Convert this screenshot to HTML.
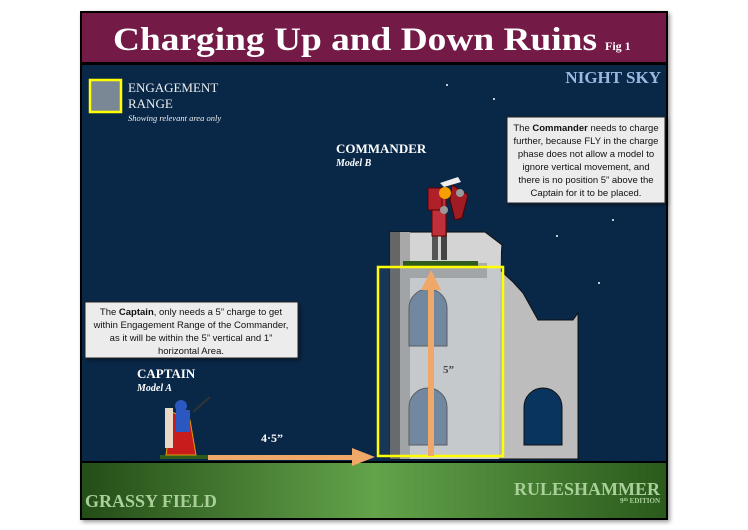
<!DOCTYPE html>
<html><head><style>
body{margin:0;background:#fff;width:748px;height:530px;overflow:hidden}
svg{display:block}
.t{font-family:"Liberation Serif",serif}
.s{font-family:"Liberation Sans",sans-serif;font-size:9.5px;fill:#111}
</style></head><body>
<svg width="748" height="530" viewBox="0 0 748 530">
<defs>
<linearGradient id="g" x1="0" x2="1" y1="0" y2="0"><stop offset="0" stop-color="#244d17"/><stop offset="0.5" stop-color="#63a34a"/><stop offset="1" stop-color="#2a5a1c"/></linearGradient>
<filter id="sh"><feDropShadow dx="2" dy="2" stdDeviation="2" flood-opacity="0.4"/></filter>
</defs>
<rect x="80" y="11" width="588" height="509" fill="#000" filter="url(#sh)"/>
<rect x="82" y="13" width="584" height="49" fill="#731a47"/>
<rect x="82" y="65" width="584" height="396" fill="#092848"/>
<rect x="82" y="463" width="584" height="55" fill="url(#g)"/>
<text x="113" y="50" class="t" font-size="33" font-weight="bold" fill="#fff" textLength="484" lengthAdjust="spacingAndGlyphs">Charging Up and Down Ruins</text>
<text x="605" y="50" class="t" font-size="12" font-weight="bold" fill="#fff">Fig 1</text>
<text x="661" y="83" class="t" font-size="17" font-weight="bold" fill="#9bb8e0" text-anchor="end">NIGHT SKY</text>
<rect x="90" y="80" width="31" height="32" fill="#7a8896" stroke="#ffff00" stroke-width="2.5"/>
<text x="128" y="92" class="t" font-size="13" fill="#eee">ENGAGEMENT</text>
<text x="128" y="108" class="t" font-size="13" fill="#eee">RANGE</text>
<text x="128" y="121" class="t" font-size="8.5" font-style="italic" fill="#eee">Showing relevant area only</text>
<g fill="#fff"><circle cx="447" cy="85" r="1"/><circle cx="494" cy="99" r="1"/><circle cx="613" cy="220" r="1"/><circle cx="599" cy="283" r="1"/><circle cx="557" cy="236" r="1"/></g>
<text x="336" y="153" class="t" font-size="13" font-weight="bold" fill="#fff">COMMANDER</text>
<text x="336" y="166" class="t" font-size="10" font-weight="bold" font-style="italic" fill="#fff">Model B</text>
<text x="137" y="378" class="t" font-size="13" font-weight="bold" fill="#fff">CAPTAIN</text>
<text x="137" y="391" class="t" font-size="10" font-weight="bold" font-style="italic" fill="#fff">Model A</text>
<g filter="url(#sh)">
<rect x="507" y="117" width="158" height="86" fill="#ececec" stroke="#222"/>
<rect x="85" y="302" width="213" height="56" fill="#ececec" stroke="#222"/>
</g>
<text class="s" text-anchor="middle"><tspan x="586" y="131">The <tspan font-weight="bold">Commander</tspan> needs to charge</tspan><tspan x="586" y="144">further, because FLY in the charge</tspan><tspan x="586" y="157">phase does not allow a model to</tspan><tspan x="586" y="170">ignore vertical movement, and</tspan><tspan x="586" y="183">there is no position 5” above the</tspan><tspan x="586" y="196">Captain for it to be placed.</tspan></text>
<text class="s" text-anchor="middle"><tspan x="191" y="315">The <tspan font-weight="bold">Captain</tspan>, only needs a 5” charge to get</tspan><tspan x="191" y="328">within Engagement Range of the Commander,</tspan><tspan x="191" y="341">as it will be within the 5” vertical and 1”</tspan><tspan x="191" y="354">horizontal Area.</tspan></text>
<polygon points="390,232 485,232 502,245 500,270 513,282 523,293 538,320 573,320 578,313 578,459 390,459" fill="#bdbdbd" stroke="#111"/>
<polygon points="391,233 485,233 501,245 499,459 391,459" fill="#d4d4d4"/>
<rect x="390" y="232" width="10" height="227" fill="#666"/>
<rect x="400" y="232" width="10" height="227" fill="#a8a8a8"/>
<rect x="400" y="263" width="87" height="15" fill="#aaa"/>
<path d="M409,346 V308 a19,19 0 0 1 38,0 V346Z" fill="#7088a0" stroke="#555"/>
<path d="M409,445 V407 a19,19 0 0 1 38,0 V445Z" fill="#7088a0" stroke="#555"/>
<path d="M524,445 V407 a19,19 0 0 1 38,0 V445Z" fill="#08345e" stroke="#111"/>
<rect x="403" y="261" width="75" height="5" fill="#2e5a1c"/>
<rect x="378" y="267" width="125" height="189" fill="rgba(120,140,160,0.15)" stroke="#ffff00" stroke-width="2.5"/>
<g>
<rect x="432" y="235" width="6" height="25" fill="#555"/><rect x="441" y="232" width="6" height="28" fill="#444"/>
<rect x="432" y="192" width="14" height="44" fill="#c0303a" stroke="#600" />
<rect x="428" y="188" width="14" height="22" fill="#b02028" stroke="#500"/>
<polygon points="452,185 468,195 462,218 455,220 450,200" fill="#a01c24" stroke="#500"/>
<circle cx="445" cy="193" r="6" fill="#f5a000"/><circle cx="460" cy="193" r="4" fill="#999"/><circle cx="444" cy="210" r="4" fill="#999"/>
<polygon points="440,183 458,177 461,182 444,187" fill="#eee"/>
</g>
<g>
<rect x="160" y="455" width="48" height="4" fill="#2e5a1c"/>
<polygon points="172,412 166,455 196,455 190,420" fill="#c81c1c" stroke="#d8a000"/>
<rect x="165" y="408" width="8" height="40" fill="#e8d8c8"/>
<circle cx="181" cy="406" r="6" fill="#2a58c0"/><rect x="176" y="410" width="14" height="22" fill="#2a58c0"/>
<line x1="193" y1="412" x2="210" y2="397" stroke="#333" stroke-width="2"/>
</g>
<rect x="208" y="455" width="145" height="5" fill="#f0a868"/>
<polygon points="352,448 375,457 352,466" fill="#f0a868"/>
<rect x="428" y="290" width="6" height="166" fill="#f0a868"/>
<polygon points="421,290 431,270 441,290" fill="#f0a868"/>
<text x="261" y="442" class="t" font-size="12" font-weight="bold" fill="#fff">4·5”</text>
<text x="443" y="373" class="t" font-size="11" font-weight="bold" fill="#444">5”</text>
<text x="85" y="507" class="t" font-size="18" font-weight="bold" fill="#a8d098">GRASSY FIELD</text>
<text x="660" y="495" class="t" font-size="18" font-weight="bold" fill="#a8d098" text-anchor="end">RULESHAMMER</text>
<text x="660" y="503" class="t" font-size="7" font-weight="bold" fill="#a8d098" text-anchor="end">9<tspan font-size="5" dy="-2">th</tspan><tspan dy="2"> EDITION</tspan></text>
</svg>
</body></html>
